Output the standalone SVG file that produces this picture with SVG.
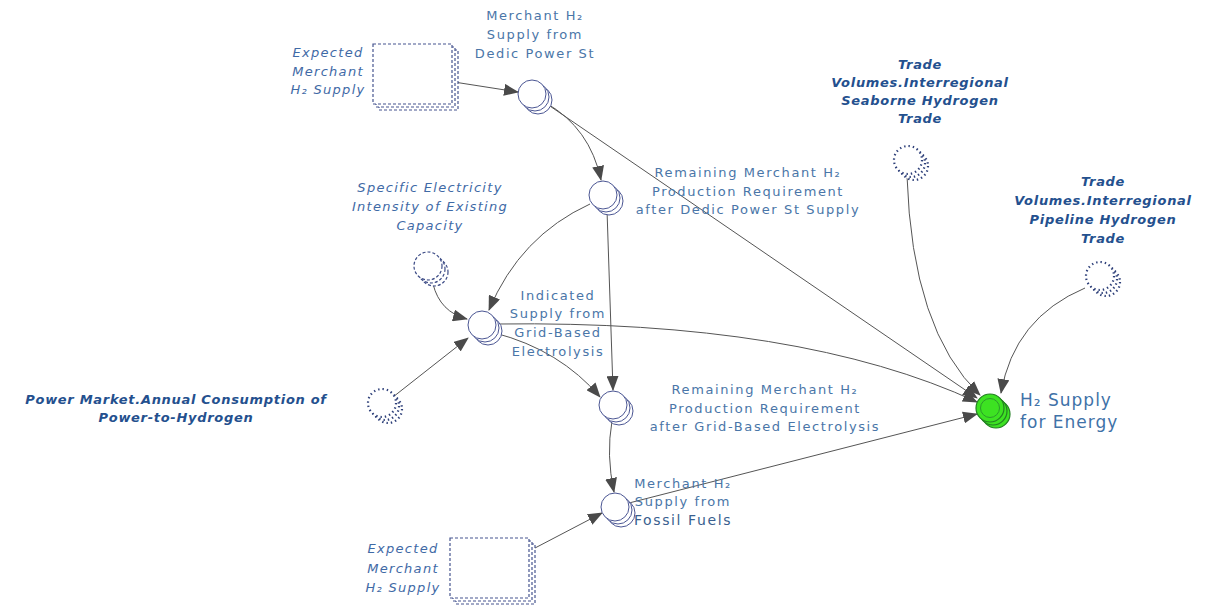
<svg xmlns="http://www.w3.org/2000/svg" xmlns:xlink="http://www.w3.org/1999/xlink" width="1212" height="609" viewBox="0 0 1212 609">
  <style>
    .lbl { font-family: "DejaVu Sans", Verdana, sans-serif; font-size: 13px; letter-spacing: 1.6px; fill: #4a76a8; text-anchor: middle; }
    .it { font-style: italic; fill: #3f6aa6; letter-spacing: 1.3px; }
    .bi { font-style: italic; font-weight: bold; fill: #24508e; letter-spacing: 0.7px; }
    .big { font-size: 17px; letter-spacing: 1px; text-anchor: start; fill: #3f72a8; }
    .nd { fill: #fff; stroke: #4b5693; stroke-width: 1; }
    .dash { fill: #fff; stroke: #3b4a85; stroke-width: 1.2; stroke-dasharray: 3 2; }
    .dot { fill: #fff; stroke: #2c3e78; stroke-width: 2.2; stroke-dasharray: 1.4 3; }
    .lvl { fill: #fff; stroke: #46558f; stroke-width: 1.2; stroke-dasharray: 3 2; }
    .goal { fill: #3de222; stroke: #237f23; stroke-width: 1.2; }
    .link { fill: none; stroke: #555; stroke-width: 1; marker-end: url(#ah); }
  </style>
  <defs>
    <marker id="ah" markerUnits="userSpaceOnUse" markerWidth="15" markerHeight="12" viewBox="0 0 15 12" refX="14" refY="6" orient="auto">
      <path d="M0,0 L15,6 L0,12 Z" fill="#4a4a4a"/>
    </marker>
    <!-- stacked circle used for auxiliaries -->
    <g id="aux">
      <circle cx="6" cy="6" r="14"/>
      <circle cx="3" cy="3" r="14"/>
      <circle cx="0" cy="0" r="14"/>
    </g>
    <!-- stacked box used for the supply inputs -->
    <g id="box">
      <rect x="6" y="6" width="79" height="60"/>
      <rect x="3" y="3" width="79" height="60"/>
      <rect x="0" y="0" width="79" height="60"/>
    </g>
  </defs>

  <rect width="1212" height="609" fill="#fff"/>

  <!-- connectors -->
  <g id="connectors">
    <path class="link" d="M454,82 L518,92"/>
    <path class="link" d="M546,103 Q590,128 601,180"/>
    <path class="link" d="M544,102 L977,398"/>
    <path class="link" d="M590,204 Q520,236 489,310"/>
    <path class="link" d="M607,210 L613,390"/>
    <path class="link" d="M433,284 Q440,312 467,319"/>
    <path class="link" d="M393,397 L468,338"/>
    <path class="link" d="M497,324 Q800,320 977,402"/>
    <path class="link" d="M495,333 Q560,350 600,397"/>
    <path class="link" d="M612,421 Q606,455 614,492"/>
    <path class="link" d="M535,548 L602,513"/>
    <path class="link" d="M629,503 L977,414"/>
    <path class="link" d="M907,176 Q912,330 980,395"/>
    <path class="link" d="M1085,288 Q1014,318 1001,393"/>
  </g>

  <!-- Expected Merchant H2 Supply (upper) -->
  <g id="expected-supply-upper">
    <use xlink:href="#box" class="lvl" x="373" y="44"/>
    <text class="lbl it" x="328" y="57">Expected</text>
    <text class="lbl it" x="328" y="76">Merchant</text>
    <text class="lbl it" x="328" y="94">H₂ Supply</text>
  </g>

  <!-- Merchant H2 Supply from Dedic Power St -->
  <g id="supply-dedic">
    <use xlink:href="#aux" class="nd" x="532" y="94"/>
    <text class="lbl" x="535" y="20">Merchant H₂</text>
    <text class="lbl" x="535" y="39">Supply from</text>
    <text class="lbl" x="535" y="58">Dedic Power St</text>
  </g>

  <!-- Remaining requirement after dedicated power stations -->
  <g id="remaining-dedic">
    <use xlink:href="#aux" class="nd" x="603" y="195"/>
    <text class="lbl" x="748" y="177">Remaining Merchant H₂</text>
    <text class="lbl" x="748" y="196">Production Requirement</text>
    <text class="lbl" x="748" y="214">after Dedic Power St Supply</text>
  </g>

  <!-- Specific Electricity Intensity of Existing Capacity -->
  <g id="specific-intensity">
    <use xlink:href="#aux" class="dash" x="428" y="266"/>
    <text class="lbl it" x="430" y="192">Specific Electricity</text>
    <text class="lbl it" x="430" y="211">Intensity of Existing</text>
    <text class="lbl it" x="430" y="230">Capacity</text>
  </g>

  <!-- Indicated Supply from Grid-Based Electrolysis -->
  <g id="indicated-grid">
    <use xlink:href="#aux" class="nd" x="482" y="325"/>
    <text class="lbl" x="558" y="300">Indicated</text>
    <text class="lbl" x="558" y="318">Supply from</text>
    <text class="lbl" x="558" y="337">Grid-Based</text>
    <text class="lbl" x="558" y="356">Electrolysis</text>
  </g>

  <!-- Power Market.Annual Consumption of Power-to-Hydrogen -->
  <g id="power-to-hydrogen">
    <use xlink:href="#aux" class="dot" x="382" y="403"/>
    <text class="lbl bi" x="176" y="404">Power Market.Annual Consumption of</text>
    <text class="lbl bi" x="176" y="422">Power-to-Hydrogen</text>
  </g>

  <!-- Remaining requirement after grid-based electrolysis -->
  <g id="remaining-grid">
    <use xlink:href="#aux" class="nd" x="613" y="405"/>
    <text class="lbl" x="765" y="394">Remaining Merchant H₂</text>
    <text class="lbl" x="765" y="413">Production Requirement</text>
    <text class="lbl" x="765" y="431">after Grid-Based Electrolysis</text>
  </g>

  <!-- Merchant H2 Supply from Fossil Fuels -->
  <g id="supply-fossil">
    <use xlink:href="#aux" class="nd" x="615" y="507"/>
    <text class="lbl" x="683" y="488">Merchant H₂</text>
    <text class="lbl" x="683" y="506">Supply from</text>
    <text class="lbl" x="683" y="525" style="font-size:14px;fill:#3a5f8f">Fossil Fuels</text>
  </g>

  <!-- Expected Merchant H2 Supply (lower) -->
  <g id="expected-supply-lower">
    <use xlink:href="#box" class="lvl" x="450" y="538"/>
    <text class="lbl it" x="403" y="553">Expected</text>
    <text class="lbl it" x="403" y="573">Merchant</text>
    <text class="lbl it" x="403" y="592">H₂ Supply</text>
  </g>

  <!-- Seaborne hydrogen trade -->
  <g id="seaborne-trade">
    <use xlink:href="#aux" class="dot" x="908" y="160"/>
    <text class="lbl bi" x="920" y="69">Trade</text>
    <text class="lbl bi" x="920" y="87">Volumes.Interregional</text>
    <text class="lbl bi" x="920" y="105">Seaborne Hydrogen</text>
    <text class="lbl bi" x="920" y="123">Trade</text>
  </g>

  <!-- Pipeline hydrogen trade -->
  <g id="pipeline-trade">
    <use xlink:href="#aux" class="dot" x="1100" y="276"/>
    <text class="lbl bi" x="1103" y="186">Trade</text>
    <text class="lbl bi" x="1103" y="205">Volumes.Interregional</text>
    <text class="lbl bi" x="1103" y="224">Pipeline Hydrogen</text>
    <text class="lbl bi" x="1103" y="243">Trade</text>
  </g>

  <!-- H2 Supply for Energy -->
  <g id="h2-supply-energy">
    <use xlink:href="#aux" class="goal" x="990" y="408"/>
    <circle cx="990" cy="408" r="9.5" fill="none" stroke="#2c9a2c" stroke-width="1"/>
    <text class="lbl big" x="1020" y="406">H₂ Supply</text>
    <text class="lbl big" x="1020" y="428">for Energy</text>
  </g>
</svg>
